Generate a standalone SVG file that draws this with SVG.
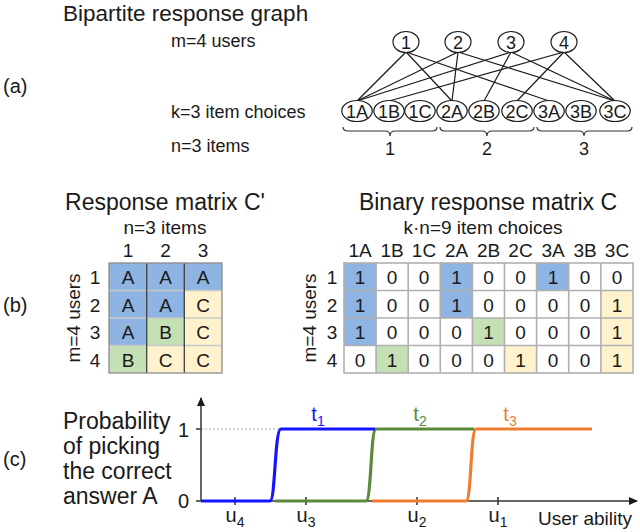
<svg xmlns="http://www.w3.org/2000/svg" width="640" height="532" viewBox="0 0 640 532">
<style>
text{font-family:"Liberation Sans",Arial,sans-serif;fill:#1a1a1a}
.t23{font-size:23px}
.t19{font-size:19px}
.t18{font-size:18px}
.t20{font-size:20px}
.c{text-anchor:middle}
.node{fill:#fff;stroke:#1a1a1a;stroke-width:1.2}
.edge{stroke:#1a1a1a;stroke-width:1.2;fill:none}
.brace{stroke:#333;stroke-width:1.2;fill:none}
.bl{fill:#8db4e2}.gr{fill:#c5e0b4}.ye{fill:#fff2cc}.wh{fill:#fff}
.gv{stroke:#404040;stroke-width:1.3}
.gh{stroke:#c8c8c8;stroke-width:1.3}
.go{stroke:#8c8c8c;stroke-width:1.3;fill:none}
.gc{stroke:#b0b0b0;stroke-width:1.6;fill:none}
.ax{stroke:#333;stroke-width:1.5;fill:none}
.cv{fill:none;stroke-width:3.2;stroke-linejoin:round}
</style>
<defs>
<marker id="arr" markerWidth="10" markerHeight="10" refX="8" refY="5" orient="auto" markerUnits="userSpaceOnUse">
<path d="M0,1 L9,5 L0,9 Z" fill="#1a1a1a"/>
</marker>
</defs>

<!-- (a) -->
<g id="panel-a-labels">
<text x="63" y="20.5" style="font-size:22.5px">Bipartite response graph</text>
<text x="171" y="47" class="t18">m=4 users</text>
<text x="3" y="93" class="t20">(a)</text>
<text x="171" y="118" class="t18">k=3 item choices</text>
<text x="171" y="152" class="t18">n=3 items</text>
</g>

<g id="connectors">
<line class="edge" x1="406" y1="52" x2="357" y2="101"/>
<line class="edge" x1="406" y1="52" x2="452" y2="101"/>
<line class="edge" x1="406" y1="52" x2="549" y2="101"/>
<line class="edge" x1="458" y1="52" x2="357" y2="101"/>
<line class="edge" x1="458" y1="52" x2="452" y2="101"/>
<line class="edge" x1="458" y1="52" x2="615" y2="101"/>
<line class="edge" x1="511" y1="52" x2="357" y2="101"/>
<line class="edge" x1="511" y1="52" x2="484" y2="101"/>
<line class="edge" x1="511" y1="52" x2="615" y2="101"/>
<line class="edge" x1="564" y1="52" x2="389" y2="101"/>
<line class="edge" x1="564" y1="52" x2="517" y2="101"/>
<line class="edge" x1="564" y1="52" x2="615" y2="101"/>
</g>

<g id="u1"><ellipse class="node" cx="406" cy="42" rx="13" ry="10.5"/><text x="406" y="48.5" class="t18 c">1</text></g>
<g id="u2"><ellipse class="node" cx="458" cy="42" rx="13" ry="10.5"/><text x="458" y="48.5" class="t18 c">2</text></g>
<g id="u3"><ellipse class="node" cx="511" cy="42" rx="13" ry="10.5"/><text x="511" y="48.5" class="t18 c">3</text></g>
<g id="u4"><ellipse class="node" cx="564" cy="42" rx="13" ry="10.5"/><text x="564" y="48.5" class="t18 c">4</text></g>

<g id="i1A"><ellipse class="node" cx="357" cy="111" rx="15.2" ry="10.5"/><text x="357" y="117.5" class="t18 c">1A</text></g>
<g id="i1B"><ellipse class="node" cx="389" cy="111" rx="15.2" ry="10.5"/><text x="389" y="117.5" class="t18 c">1B</text></g>
<g id="i1C"><ellipse class="node" cx="420" cy="111" rx="15.2" ry="10.5"/><text x="420" y="117.5" class="t18 c">1C</text></g>
<g id="i2A"><ellipse class="node" cx="452" cy="111" rx="15.2" ry="10.5"/><text x="452" y="117.5" class="t18 c">2A</text></g>
<g id="i2B"><ellipse class="node" cx="484" cy="111" rx="15.2" ry="10.5"/><text x="484" y="117.5" class="t18 c">2B</text></g>
<g id="i2C"><ellipse class="node" cx="517" cy="111" rx="15.2" ry="10.5"/><text x="517" y="117.5" class="t18 c">2C</text></g>
<g id="i3A"><ellipse class="node" cx="549" cy="111" rx="15.2" ry="10.5"/><text x="549" y="117.5" class="t18 c">3A</text></g>
<g id="i3B"><ellipse class="node" cx="581" cy="111" rx="15.2" ry="10.5"/><text x="581" y="117.5" class="t18 c">3B</text></g>
<g id="i3C"><ellipse class="node" cx="615" cy="111" rx="15.2" ry="10.5"/><text x="615" y="117.5" class="t18 c">3C</text></g>

<g id="braces">
<path class="brace" d="M343,127 Q343,131 348,131 L385,131 Q390,131 390,136 Q390,131 395,131 L432,131 Q437,131 437,127"/>
<path class="brace" d="M440,127 Q440,131 445,131 L482,131 Q487,131 487,136 Q487,131 492,131 L529,131 Q534,131 534,127"/>
<path class="brace" d="M537,127 Q537,131 542,131 L579,131 Q584,131 584,136 Q584,131 589,131 L627,131 Q632,131 632,127"/>
<text x="390" y="155" class="t18 c">1</text>
<text x="487" y="155" class="t18 c">2</text>
<text x="584" y="155" class="t18 c">3</text>
</g>

<!-- (b) -->
<g id="panel-b-labels">
<text x="3" y="312" class="t20">(b)</text>
</g>

<g id="matrix-Cprime">
<text x="165" y="210" class="t23 c">Response matrix C'</text>
<text x="165" y="234" class="t19 c">n=3 items</text>
<text x="128" y="257" class="t19 c">1</text>
<text x="165.5" y="257" class="t19 c">2</text>
<text x="203" y="257" class="t19 c">3</text>
<text transform="translate(80,318) rotate(-90)" class="t19 c">m=4 users</text>
<text x="95" y="284" class="t19 c">1</text>
<text x="95" y="311.5" class="t19 c">2</text>
<text x="95" y="339" class="t19 c">3</text>
<text x="95" y="366.5" class="t19 c">4</text>
<rect class="bl" x="109" y="263" width="37.7" height="27.5"/>
<rect class="bl" x="146.7" y="263" width="37.7" height="27.5"/>
<rect class="bl" x="184.3" y="263" width="37.7" height="27.5"/>
<rect class="bl" x="109" y="290.5" width="37.7" height="27.5"/>
<rect class="bl" x="146.7" y="290.5" width="37.7" height="27.5"/>
<rect class="ye" x="184.3" y="290.5" width="37.7" height="27.5"/>
<rect class="bl" x="109" y="318" width="37.7" height="27.5"/>
<rect class="gr" x="146.7" y="318" width="37.7" height="27.5"/>
<rect class="ye" x="184.3" y="318" width="37.7" height="27.5"/>
<rect class="gr" x="109" y="345.5" width="37.7" height="27.5"/>
<rect class="ye" x="146.7" y="345.5" width="37.7" height="27.5"/>
<rect class="ye" x="184.3" y="345.5" width="37.7" height="27.5"/>
<line class="gh" x1="109" y1="290.5" x2="222" y2="290.5"/>
<line class="gh" x1="109" y1="318" x2="222" y2="318"/>
<line class="gh" x1="109" y1="345.5" x2="222" y2="345.5"/>
<line class="gv" x1="146.7" y1="263" x2="146.7" y2="373"/>
<line class="gv" x1="184.3" y1="263" x2="184.3" y2="373"/>
<rect class="go" x="109" y="263" width="113" height="110"/>
<text x="128" y="284" class="t19 c">A</text>
<text x="165.5" y="284" class="t19 c">A</text>
<text x="203" y="284" class="t19 c">A</text>
<text x="128" y="311.5" class="t19 c">A</text>
<text x="165.5" y="311.5" class="t19 c">A</text>
<text x="203" y="311.5" class="t19 c">C</text>
<text x="128" y="339" class="t19 c">A</text>
<text x="165.5" y="339" class="t19 c">B</text>
<text x="203" y="339" class="t19 c">C</text>
<text x="128" y="366.5" class="t19 c">B</text>
<text x="165.5" y="366.5" class="t19 c">C</text>
<text x="203" y="366.5" class="t19 c">C</text>
</g>

<g id="matrix-C">
<text x="488" y="210" class="t23 c">Binary response matrix C</text>
<text x="483" y="234" class="t19 c">k·n=9 item choices</text>
<g class="t19">
<text x="360" y="257" class="c">1A</text>
<text x="392" y="257" class="c">1B</text>
<text x="424" y="257" class="c">1C</text>
<text x="456.5" y="257" class="c">2A</text>
<text x="488.5" y="257" class="c">2B</text>
<text x="520.5" y="257" class="c">2C</text>
<text x="553" y="257" class="c">3A</text>
<text x="585" y="257" class="c">3B</text>
<text x="617" y="257" class="c">3C</text>
</g>
<text transform="translate(316,318) rotate(-90)" class="t19 c">m=4 users</text>
<text x="332" y="284" class="t19 c">1</text>
<text x="332" y="311.5" class="t19 c">2</text>
<text x="332" y="339" class="t19 c">3</text>
<text x="332" y="366.5" class="t19 c">4</text>
<rect class="wh" x="344" y="263" width="289" height="110"/>
<rect class="bl" x="344" y="263" width="32.1" height="82.5"/>
<rect class="bl" x="440.3" y="263" width="32.1" height="55"/>
<rect class="bl" x="536.6" y="263" width="32.1" height="27.5"/>
<rect class="ye" x="600.9" y="290.5" width="32.1" height="82.5"/>
<rect class="gr" x="472.4" y="318" width="32.1" height="27.5"/>
<rect class="gr" x="376.1" y="345.5" width="32.1" height="27.5"/>
<rect class="ye" x="504.5" y="345.5" width="32.1" height="27.5"/>
<path class="gc" d="M344,290.5H633M344,318H633M344,345.5H633M376.1,263V373M408.2,263V373M440.3,263V373M472.4,263V373M504.5,263V373M536.6,263V373M568.7,263V373M600.9,263V373"/>
<rect class="gc" x="344" y="263" width="289" height="110"/>
<g class="t19">
<text x="360" y="284" class="c">1</text><text x="392" y="284" class="c">0</text><text x="424" y="284" class="c">0</text><text x="456.5" y="284" class="c">1</text><text x="488.5" y="284" class="c">0</text><text x="520.5" y="284" class="c">0</text><text x="553" y="284" class="c">1</text><text x="585" y="284" class="c">0</text><text x="617" y="284" class="c">0</text>
<text x="360" y="311.5" class="c">1</text><text x="392" y="311.5" class="c">0</text><text x="424" y="311.5" class="c">0</text><text x="456.5" y="311.5" class="c">1</text><text x="488.5" y="311.5" class="c">0</text><text x="520.5" y="311.5" class="c">0</text><text x="553" y="311.5" class="c">0</text><text x="585" y="311.5" class="c">0</text><text x="617" y="311.5" class="c">1</text>
<text x="360" y="339" class="c">1</text><text x="392" y="339" class="c">0</text><text x="424" y="339" class="c">0</text><text x="456.5" y="339" class="c">0</text><text x="488.5" y="339" class="c">1</text><text x="520.5" y="339" class="c">0</text><text x="553" y="339" class="c">0</text><text x="585" y="339" class="c">0</text><text x="617" y="339" class="c">1</text>
<text x="360" y="366.5" class="c">0</text><text x="392" y="366.5" class="c">1</text><text x="424" y="366.5" class="c">0</text><text x="456.5" y="366.5" class="c">0</text><text x="488.5" y="366.5" class="c">0</text><text x="520.5" y="366.5" class="c">1</text><text x="553" y="366.5" class="c">0</text><text x="585" y="366.5" class="c">0</text><text x="617" y="366.5" class="c">1</text>
</g>
</g>

<!-- (c) -->
<g id="panel-c">
<text x="3" y="466" class="t20">(c)</text>
<text x="63" y="429" class="t23">Probability</text>
<text x="63" y="454" class="t23">of picking</text>
<text x="63" y="479" class="t23">the correct</text>
<text x="63" y="504" class="t23">answer A</text>
<text x="189" y="437" class="t20" text-anchor="end">1</text>
<text x="189" y="508" class="t20" text-anchor="end">0</text>
<line x1="201" y1="429" x2="282" y2="429" stroke="#aaa" stroke-width="1" stroke-dasharray="2,2"/>
<line class="ax" x1="201" y1="501" x2="201" y2="398" marker-end="url(#arr)"/>
<line class="ax" x1="201" y1="501" x2="637" y2="501" marker-end="url(#arr)"/>
<path class="ax" d="M196,429H201M196,501H201M235,497V505M306,497V505M417,497V505M498,497V505"/>
<path class="cv" stroke="#ed7d31" d="M372,501H466C471.5,501 470.5,429 476,429H592"/>
<path class="cv" stroke="#5b8a3a" d="M275,501H366C371.5,501 370.5,429 376,429H474"/>
<path class="cv" stroke="#1414ff" d="M201,501H270C275.5,501 274.5,429 281,429H375"/>
<text x="318" y="421" class="t20 c" style="fill:#1414ff">t<tspan font-size="14" dy="5">1</tspan></text>
<text x="420" y="421" class="t20 c" style="fill:#5b8a3a">t<tspan font-size="14" dy="5">2</tspan></text>
<text x="510" y="421" class="t20 c" style="fill:#ed7d31">t<tspan font-size="14" dy="5">3</tspan></text>
<text x="235" y="522" class="t20 c">u<tspan font-size="14" dy="5">4</tspan></text>
<text x="306" y="522" class="t20 c">u<tspan font-size="14" dy="5">3</tspan></text>
<text x="417" y="522" class="t20 c">u<tspan font-size="14" dy="5">2</tspan></text>
<text x="498" y="522" class="t20 c">u<tspan font-size="14" dy="5">1</tspan></text>
<text x="632" y="525" class="t19" text-anchor="end">User ability</text>
</g>
</svg>
